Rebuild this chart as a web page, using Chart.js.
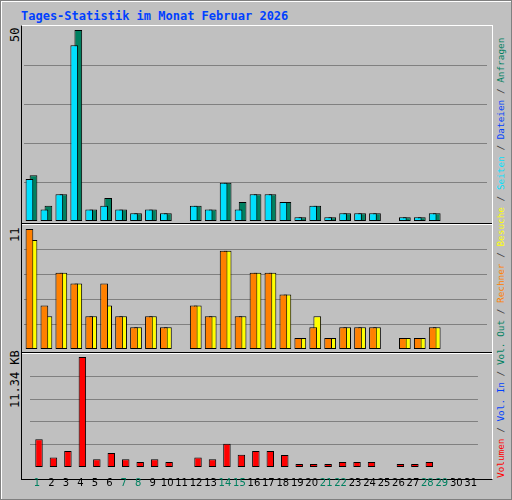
<!DOCTYPE html>
<html>
<head>
<meta charset="utf-8">
<script src="https://cdn.jsdelivr.net/npm/chart.js@4"></script>
<style>
  body { margin: 0; background: #c0c0c0; }
  #wrap { position: relative; width: 510px; height: 498px; background: #c0c0c0; border: 1px solid #808080; box-shadow: inset 1px 1px 0 #fff; font-family: "DejaVu Sans Mono", monospace; }
  .title { position: absolute; left: 20px; top: 8px; color: #0040ff; font-weight: bold; font-size: 12px; }
  #frame { position: absolute; left: 20px; top: 24px; width: 470px; height: 453px; border-left: 1px solid #000; border-top: 1px solid #fff; border-right: 1px solid #fff; border-bottom: 1px solid #000; }
  .div { position: absolute; left: 21px; width: 470px; height: 1px; background: #000; border-bottom: 1px solid #fff; }
  canvas { position: absolute; }
  .rot { position: absolute; transform-origin: 0 0; transform: rotate(-90deg); white-space: nowrap; font-size: 12px; }
  .legend { font-size: 9.4px; color: #404040; }
</style>
</head>
<body>
<div id="wrap">
  <div class="title">Tages-Statistik im Monat Februar 2026</div>
  <div id="frame"></div>
  <div class="div" style="top:222px"></div>
  <div class="div" style="top:351px"></div>
  <div class="rot" style="left:7px; top:41px;">50</div>
  <div class="rot" style="left:7px; top:241px;">11</div>
  <div class="rot" style="left:7px; top:407px;">11.34 KB</div>
  <div class="rot legend" style="left:494px; top:477px;"><span style="color:#ff0000">Volumen</span> / <span style="color:#0040ff">Vol. In</span> / <span style="color:#008060">Vol. Out</span> / <span style="color:#ff8000">Rechner</span> / <span style="color:#ffff00">Besuche</span> / <span style="color:#00e0ff">Seiten</span> / <span style="color:#0040ff">Dateien</span> / <span style="color:#008060">Anfragen</span></div>
  <canvas id="c1" style="left:23px; top:25px;" width="463" height="195"></canvas>
  <canvas id="c2" style="left:23px; top:224px;" width="463" height="124"></canvas>
  <canvas id="c3" style="left:23px; top:353px;" width="463" height="145"></canvas>
</div>
<script>
const days = Array.from({ length: 31 }, (_, i) => String(i + 1));
const weekend = [1, 7, 8, 14, 15, 21, 22, 28, 29];

const hits   = [12, 4, 7, 50, 3, 6, 3, 2, 3, 2, 0, 4, 3, 10, 5, 7, 7, 5, 1, 4, 1, 2, 2, 2, 0, 1, 1, 2, 0, 0, 0];
const files  = [11, 3, 7, 46, 3, 4, 3, 2, 3, 2, 0, 4, 3, 10, 3, 7, 7, 5, 1, 4, 1, 2, 2, 2, 0, 1, 1, 2, 0, 0, 0];
const visits = [10, 3, 7, 6, 3, 4, 3, 2, 3, 2, 0, 4, 3, 9, 3, 7, 7, 5, 1, 3, 1, 2, 2, 2, 0, 1, 1, 2, 0, 0, 0];
const sites  = [11, 4, 7, 6, 3, 6, 3, 2, 3, 2, 0, 4, 3, 9, 3, 7, 7, 5, 1, 2, 1, 2, 2, 2, 0, 1, 1, 2, 0, 0, 0];
const volume = [2.87, 0.98, 1.64, 11.34, 0.79, 1.45, 0.79, 0.51, 0.79, 0.51, 0, 0.98, 0.79, 2.40, 1.26, 1.64, 1.64, 1.23, 0.32, 0.32, 0.32, 0.51, 0.51, 0.51, 0, 0.32, 0.32, 0.51, 0, 0, 0];

// y range: top of panel value, gridlines at fifths
function yAxis(max) {
  return {
    min: 0, max,
    border: { display: false },
    ticks: { display: false },
    grid: { color: "#808080", lineWidth: 1, drawTicks: false },
    afterBuildTicks: (s) => { s.ticks = [1, 2, 3, 4].map((k) => ({ value: max * k / 5 })); },
    afterFit: (s) => { s.width = 0; },
  };
}

// order: lower draws on top, so the second (front) bar gets the lower number
function ds(data, color, order) {
  return { data, order, backgroundColor: color, borderColor: "#000", borderWidth: 1, borderSkipped: false,
    categoryPercentage: 0.543, barPercentage: 1.9 };
}

function make(id, datasets, max, showX) {
  return new Chart(document.getElementById(id), {
    type: "bar",
    data: { labels: days, datasets },
    options: {
      responsive: false, animation: false,
      layout: { padding: 0 },
      plugins: { legend: { display: false }, tooltip: { enabled: false } },
      scales: {
        x: {
          border: { display: false },
          grid: { display: false, drawTicks: false },
          ticks: {
            display: showX, autoSkip: false, maxRotation: 0, padding: 10,
            font: { family: "DejaVu Sans", size: 10 },
            color: (c) => weekend.includes(c.index + 1) ? "#008060" : "#000",
          },
          afterFit: (s) => { if (!showX) s.height = 0; },
        },
        y: yAxis(max),
      },
    },
  });
}

make("c1", [ds(hits, "#008060", 1), ds(files, "#00e0ff", 0)], 51.05, false);
make("c2", [ds(visits, "#ffff00", 1), ds(sites, "#ff8000", 0)], 11.37, false);
make("c3", [ds(volume, "#ff0000", 1), ds([], "#0040ff", 0)], 11.65, true);
</script>
</body>
</html>
